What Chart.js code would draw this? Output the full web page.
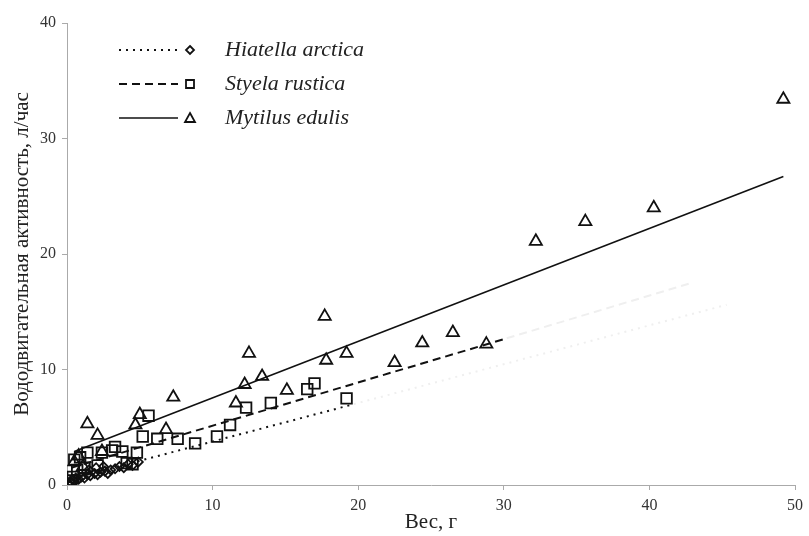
<!DOCTYPE html>
<html>
<head>
<meta charset="utf-8">
<script src="https://cdn.jsdelivr.net/npm/chart.js@4"></script>
<style>
  body { margin: 0; background: #fff; }
  #wrap { width: 809px; height: 536px; }
</style>
</head>
<body>
<div id="wrap"><canvas id="myChart" width="809" height="536"></canvas></div>
<script>
// measured points, weight (g) vs filtration rate (l/h)
const hiatellaX = [0.1, 0.2, 0.3, 0.4, 0.5, 0.6, 0.8, 1.0, 1.2, 1.4, 1.5, 1.6, 1.9, 2.0, 2.1, 2.3, 2.5, 2.6, 2.8, 3.0, 3.3, 3.6, 3.9, 4.2, 4.5, 4.9];
const hiatellaY = [0.1, 0.3, 0.2, 0.5, 0.3, 0.6, 0.5, 0.7, 0.6, 0.9, 1.3, 0.8, 1.0, 1.5, 0.9, 1.1, 1.6, 1.2, 1.0, 1.3, 1.4, 1.6, 1.5, 1.8, 1.7, 2.0];

const styelaX = [0.3, 0.4, 0.5, 0.7, 0.9, 1.2, 1.4, 2.1, 2.4, 3.1, 3.3, 3.8, 4.1, 4.5, 4.8, 5.2, 5.6, 6.2, 7.6, 8.8, 10.3, 11.2, 12.3, 14.0, 16.5, 17.0, 19.2];
const styelaY = [0.4, 0.7, 2.2, 1.3, 2.4, 1.5, 2.8, 1.7, 2.8, 3.0, 3.3, 2.9, 1.9, 1.8, 2.8, 4.2, 6.0, 4.0, 4.0, 3.6, 4.2, 5.2, 6.7, 7.1, 8.3, 8.8, 7.5];

const mytilusX = [0.5, 0.8, 1.1, 1.4, 2.1, 2.4, 4.7, 5.0, 6.8, 7.3, 11.6, 12.2, 12.5, 13.4, 15.1, 17.7, 17.8, 19.2, 22.5, 24.4, 26.5, 28.8, 32.2, 35.6, 40.3, 49.2];
const mytilusY = [2.0, 2.5, 1.6, 5.3, 4.3, 2.9, 5.2, 6.1, 4.8, 7.6, 7.1, 8.7, 11.4, 9.4, 8.2, 14.6, 10.8, 11.4, 10.6, 12.3, 13.2, 12.2, 21.1, 22.8, 24.0, 33.4];

// trend lines (end points)
const hiatellaFitX = [0.2, 19.7];
const hiatellaFitY = [0.5, 7.0];
const hiatellaFaintX = [19.7, 45.3];
const hiatellaFaintY = [7.0, 15.6];

const styelaFitX = [0.3, 30.2];
const styelaFitY = [1.5, 12.7];
const styelaFaintX = [30.2, 42.9];
const styelaFaintY = [12.7, 17.5];

const mytilusFitX = [0.5, 49.2];
const mytilusFitY = [2.9, 26.7];

const seriesNames = ['Hiatella arctica', 'Styela rustica', 'Mytilus edulis'];
const xTicks = [0, 10, 20, 30, 40, 50];
const yTicks = [0, 10, 20, 30, 40];

function toPoints(xs, ys) {
  return xs.map((x, i) => ({ x: x, y: ys[i] }));
}

const serif = 'Liberation Serif';

function pointSet(xs, ys, style, radius) {
  return {
    type: 'scatter',
    data: toPoints(xs, ys),
    pointStyle: style,
    pointRadius: radius,
    pointBorderColor: '#111',
    pointBackgroundColor: 'rgba(255,255,255,0)',
    pointBorderWidth: 1.8,
    showLine: false
  };
}

function lineSet(xs, ys, color, width, dash) {
  return {
    type: 'line',
    data: toPoints(xs, ys),
    borderColor: color,
    borderWidth: width,
    borderDash: dash,
    pointRadius: 0,
    fill: false
  };
}

// legend: line sample + marker + italic name
const legendPlugin = {
  id: 'sampleLegend',
  afterDraw(chart) {
    const ctx = chart.ctx;
    const rows = [
      { y: 50, dash: [2, 5], width: 2, marker: 'diamond' },
      { y: 84, dash: [8, 5], width: 2, marker: 'square' },
      { y: 118, dash: [], width: 1.6, marker: 'triangle' }
    ];
    ctx.save();
    rows.forEach((r, i) => {
      ctx.strokeStyle = '#111';
      ctx.lineWidth = r.width;
      ctx.setLineDash(r.dash);
      ctx.beginPath();
      ctx.moveTo(119, r.y);
      ctx.lineTo(178, r.y);
      ctx.stroke();
      ctx.setLineDash([]);
      ctx.lineWidth = 1.8;
      ctx.beginPath();
      const mx = 190;
      if (r.marker === 'diamond') {
        ctx.moveTo(mx, r.y - 4); ctx.lineTo(mx + 4, r.y); ctx.lineTo(mx, r.y + 4); ctx.lineTo(mx - 4, r.y); ctx.closePath();
      } else if (r.marker === 'square') {
        ctx.rect(mx - 4, r.y - 4, 8, 8);
      } else {
        ctx.moveTo(mx, r.y - 5); ctx.lineTo(mx + 5, r.y + 4); ctx.lineTo(mx - 5, r.y + 4); ctx.closePath();
      }
      ctx.stroke();
      ctx.fillStyle = '#222';
      ctx.font = 'italic 22px "' + serif + '"';
      ctx.textBaseline = 'middle';
      ctx.fillText(seriesNames[i], 225, r.y);
    });
    ctx.restore();
  }
};

const canvas = document.getElementById('myChart').getContext('2d');
const myChart = new Chart(canvas, {
  type: 'scatter',
  data: {
    datasets: [
      lineSet(hiatellaFaintX, hiatellaFaintY, '#efefef', 2, [2, 5]),
      lineSet(styelaFaintX, styelaFaintY, '#efefef', 2, [8, 5]),
      lineSet(hiatellaFitX, hiatellaFitY, '#111', 2, [2, 5]),
      lineSet(styelaFitX, styelaFitY, '#111', 2, [8, 5]),
      lineSet(mytilusFitX, mytilusFitY, '#111', 1.6, []),
      pointSet(hiatellaX, hiatellaY, 'rectRot', 4.5),
      pointSet(styelaX, styelaY, 'rect', 7.5),
      pointSet(mytilusX, mytilusY, 'triangle', 7)
    ]
  },
  options: {
    responsive: false,
    animation: false,
    layout: { padding: { top: 23, right: 12, left: 0, bottom: 0 } },
    plugins: {
      legend: { display: false },
      tooltip: { enabled: false }
    },
    scales: {
      x: {
        type: 'linear',
        min: 0,
        max: 50,
        afterBuildTicks: (s) => { s.ticks = xTicks.map(v => ({ value: v })); },
        ticks: { color: '#333', padding: 6, font: { family: serif, size: 16 } },
        grid: { drawOnChartArea: false, color: '#aaa', tickLength: 5 },
        border: { color: '#aaa' },
        title: {
          display: true,
          text: 'Вес, г',
          color: '#222',
          font: { family: serif, size: 21 },
          padding: { top: 0, bottom: 1 }
        },
        afterFit: (s) => { s.height = 51; }
      },
      y: {
        type: 'linear',
        min: 0,
        max: 40,
        afterBuildTicks: (s) => { s.ticks = yTicks.map(v => ({ value: v })); },
        ticks: { color: '#333', padding: 6, font: { family: serif, size: 16 } },
        grid: { drawOnChartArea: false, color: '#aaa', tickLength: 5 },
        border: { color: '#aaa' },
        title: {
          display: true,
          text: 'Вододвигательная активность, л/час',
          color: '#222',
          font: { family: serif, size: 21 },
          padding: { top: 10, bottom: 0 }
        },
        afterFit: (s) => { s.width = 67; }
      }
    }
  },
  plugins: [legendPlugin]
});
</script>
</body>
</html>
